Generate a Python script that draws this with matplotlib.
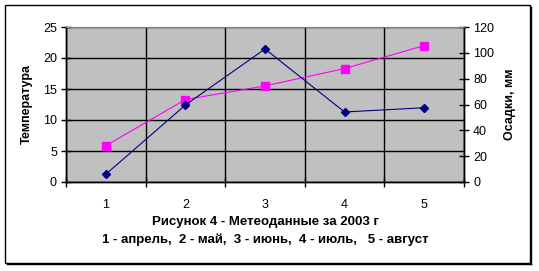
import matplotlib
matplotlib.use("Agg")
import matplotlib.pyplot as plt
from matplotlib.patches import Rectangle
from matplotlib.ticker import FixedLocator, NullFormatter

plt.rcParams['font.family'] = ['Liberation Sans', 'DejaVu Sans']

months = [1, 2, 3, 4, 5]
temperature = [5.85, 13.3, 15.5, 18.3, 22.0]
precipitation = [6.0, 59.6, 103.0, 54.2, 57.5]
left_ticks = [0, 5, 10, 15, 20, 25]
right_ticks = [0, 20, 40, 60, 80, 100, 120]
title_lines = "Рисунок 4 - Метеоданные за 2003 г\n1 - апрель,  2 - май,  3 - июнь,  4 - июль,   5 - август"

fig = plt.figure(figsize=(5.39, 2.71), dpi=100)
fig.patch.set_facecolor('white')

# outer chart frame with a small shadow on right/bottom
fig.add_artist(Rectangle((5 / 539, 1 - 263 / 271), 525 / 539, 258 / 271,
                         transform=fig.transFigure, fill=False, lw=1.0, ec='black'))
fig.add_artist(plt.Line2D([531 / 539, 531 / 539], [1 - 264 / 271, 1 - 7 / 271],
                          transform=fig.transFigure, color='black', lw=1.0))
fig.add_artist(plt.Line2D([7 / 539, 531 / 539], [1 - 264 / 271, 1 - 264 / 271],
                          transform=fig.transFigure, color='black', lw=1.0))

ax = fig.add_axes([66 / 539, 1 - 182 / 271, 398 / 539, 155 / 271])
ax.set_facecolor('#C0C0C0')
ax2 = ax.twinx()

ax.plot(months, temperature, color='#FF00FF', lw=0.8, marker='s', ms=5.5,
        mec='#FF00FF', mfc='#FF00FF', zorder=3)
ax2.plot(months, precipitation, color='#000080', lw=0.8, marker='D', ms=4.5,
         mec='#000080', mfc='#000080', zorder=3)

ax.set_xlim(0.5, 5.5)
ax.set_ylim(0, 25)
ax2.set_ylim(0, 120)

ax.set_yticks(left_ticks)
ax2.set_yticks(right_ticks)
ax.set_xticks(months)
ax.xaxis.set_minor_locator(FixedLocator([0.5, 1.5, 2.5, 3.5, 4.5, 5.5]))
ax.xaxis.set_minor_formatter(NullFormatter())

ax.tick_params(axis='x', which='major', length=0, pad=12, labelsize=9)
ax.tick_params(axis='x', which='minor', direction='inout', length=7, width=1)
ax.tick_params(axis='y', direction='inout', length=7, width=1, labelsize=9, pad=3)
ax2.tick_params(axis='y', direction='inout', length=7, width=1, labelsize=9, pad=3)

ax.grid(True, axis='y', color='black', lw=1.0)
ax.grid(True, axis='x', which='minor', color='black', lw=1.0)
ax.set_axisbelow(True)

for a in (ax, ax2):
    a.spines['top'].set_color('#808080')
    for s in ('left', 'right', 'bottom'):
        a.spines[s].set_color('black')
        a.spines[s].set_linewidth(1.0)

ax.set_ylabel('Температура', fontsize=9, fontweight='bold', labelpad=7)
ax2.set_ylabel('Осадки, мм', fontsize=9, fontweight='bold', rotation=90, labelpad=7)

fig.text(265 / 539, 1 - 231 / 271, title_lines, ha='center', va='center',
         fontsize=9.5, fontweight='bold', linespacing=1.65)

fig.savefig('out.png', dpi=100)
